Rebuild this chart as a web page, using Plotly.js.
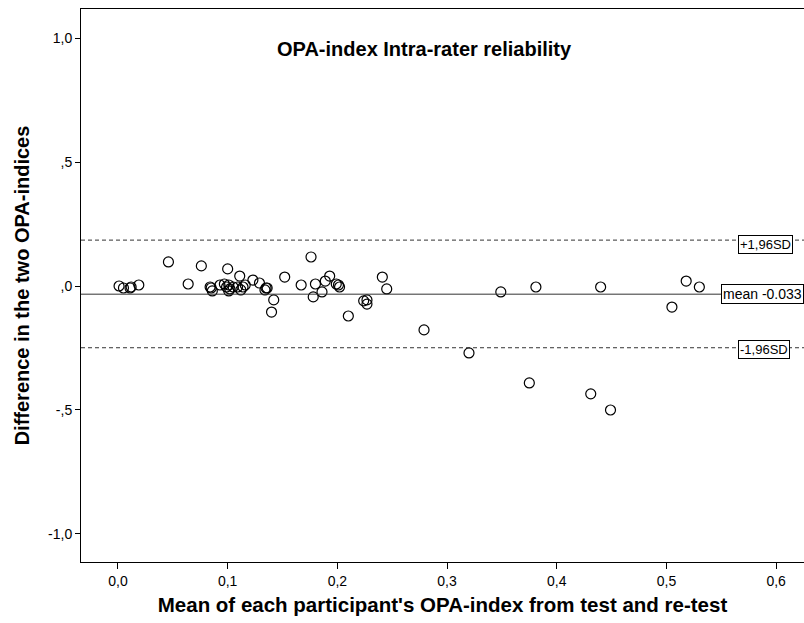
<!DOCTYPE html>
<html>
<head>
<meta charset="utf-8">
<script src="https://cdn.plot.ly/plotly-3.0.1.min.js"></script>
<style>html,body{margin:0;padding:0;background:#fff;}#chart{width:804px;height:623px;}</style>
</head>
<body>
<div id="chart"></div>
<script>
// Mean of test and re-test (x) and difference (y)
const meanIndex = [0.001,0.005,0.011,0.012,0.019,0.046,0.064,0.076,0.084,0.086,
  0.085,0.093,0.097,0.100,0.099,0.101,0.102,0.101,0.105,0.111,
  0.109,0.112,0.114,0.116,0.123,0.129,0.134,0.135,0.136,0.142,
  0.140,0.152,0.167,0.176,0.178,0.180,0.186,0.189,0.193,0.199,
  0.201,0.202,0.210,0.224,0.227,0.227,0.241,0.245,0.279,0.320,
  0.349,0.375,0.381,0.431,0.440,0.449,0.505,0.518,0.530];
const difference = [0.000,-0.008,-0.008,-0.004,0.004,0.097,0.008,0.081,-0.004,-0.020,
  -0.008,0.004,0.008,0.069,-0.004,0.004,-0.012,-0.020,-0.004,0.040,
  -0.004,-0.016,-0.004,0.004,0.024,0.012,-0.016,-0.008,-0.008,-0.056,
  -0.105,0.036,0.004,0.117,-0.044,0.008,-0.024,0.020,0.040,0.008,
  0.004,-0.004,-0.121,-0.060,-0.056,-0.073,0.036,-0.012,-0.177,-0.270,
  -0.024,-0.391,-0.004,-0.435,-0.004,-0.500,-0.085,0.020,-0.004];
const meanDiff = -0.033;
const upperLimit = 0.185;
const lowerLimit = -0.249;
const xTickVals = [0,0.1,0.2,0.3,0.4,0.5,0.6];
const xTickText = ["0,0","0,1","0,2","0,3","0,4","0,5","0,6"];
const yTickVals = [1,0.5,0,-0.5,-1];
const yTickText = ["1,0",",5",",0","-,5","-1,0"];

const FONT = "Arial, 'Liberation Sans', sans-serif";

const traces = [{
  x: meanIndex, y: difference, type: 'scatter', mode: 'markers',
  marker: {symbol: 'circle-open', size: 10, color: '#000', line: {width: 1.2, color: '#000'}},
  hoverinfo: 'x+y', showlegend: false, cliponaxis: false
}];

const layout = {
  width: 804, height: 623,
  margin: {l: 81, r: 0, t: 9, b: 61},
  paper_bgcolor: '#fff', plot_bgcolor: '#fff',
  font: {family: FONT, color: '#000', size: 14},
  showlegend: false,
  xaxis: {
    range: [-0.0337, 0.6254], showgrid: false, zeroline: false,
    showline: true, linecolor: '#000', linewidth: 1, mirror: true,
    ticks: 'outside', ticklen: 6, tickcolor: '#000',
    tickvals: xTickVals, ticktext: xTickText,
    tickfont: {family: FONT, size: 14, color: '#000'},
    title: {text: "Mean of each participant's OPA-index from test and re-test",
      font: {family: FONT, size: 20.5, color: '#000', weight: 'bold'}, standoff: 9},
    automargin: false
  },
  yaxis: {
    range: [-1.113, 1.117], showgrid: false, zeroline: false,
    showline: true, linecolor: '#000', linewidth: 1,
    ticks: 'outside', ticklen: 5, tickcolor: '#000',
    tickvals: yTickVals, ticktext: yTickText,
    tickfont: {family: FONT, size: 14, color: '#000'},
    title: {text: "Difference in the two OPA-indices",
      font: {family: FONT, size: 20, color: '#000', weight: 'bold'}, standoff: 13},
    automargin: false
  },
  shapes: [
    {type: 'line', xref: 'paper', yref: 'y', x0: 0, x1: 1, y0: meanDiff, y1: meanDiff,
      line: {color: '#333', width: 1}},
    {type: 'line', xref: 'paper', yref: 'y', x0: 0, x1: 1, y0: upperLimit, y1: upperLimit,
      line: {color: '#333', width: 1, dash: '4px,3px'}},
    {type: 'line', xref: 'paper', yref: 'y', x0: 0, x1: 1, y0: lowerLimit, y1: lowerLimit,
      line: {color: '#333', width: 1, dash: '4px,3px'}}
  ],
  annotations: [
    {text: 'OPA-index Intra-rater reliability', xref: 'paper', yref: 'paper',
      x: 0.475, y: 0.928, xanchor: 'center', yanchor: 'middle', showarrow: false,
      font: {family: FONT, size: 20, color: '#000', weight: 'bold'}},
    {text: '+1,96SD', xref: 'x', yref: 'y', x: 0.5650, y: upperLimit - 0.016,
      xanchor: 'left', yanchor: 'middle', showarrow: false,
      bordercolor: '#000', borderwidth: 1, borderpad: 1, bgcolor: '#fff',
      font: {family: FONT, size: 13, color: '#000'}},
    {text: 'mean -0.033', xref: 'x', yref: 'y', x: 0.5496, y: meanDiff,
      xanchor: 'left', yanchor: 'middle', showarrow: false,
      bordercolor: '#000', borderwidth: 1, borderpad: 1, bgcolor: '#fff',
      font: {family: FONT, size: 14, color: '#000'}},
    {text: '-1,96SD', xref: 'x', yref: 'y', x: 0.5650, y: lowerLimit - 0.008,
      xanchor: 'left', yanchor: 'middle', showarrow: false,
      bordercolor: '#000', borderwidth: 1, borderpad: 1, bgcolor: '#fff',
      font: {family: FONT, size: 13, color: '#000'}}
  ]
};

Plotly.newPlot('chart', traces, layout, {displayModeBar: false, staticPlot: true});
</script>
</body>
</html>
